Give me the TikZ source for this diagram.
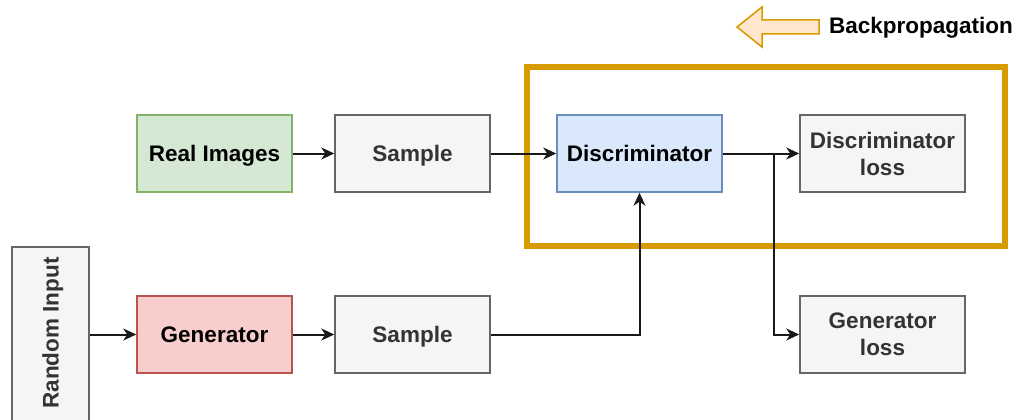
\documentclass[tikz,border=0pt]{standalone}
\usepackage{fontspec}
\setmainfont{Liberation Sans}
\usetikzlibrary{arrows.meta,calc}
\definecolor{grayfill}{HTML}{F5F5F5}
\definecolor{graystroke}{HTML}{666666}
\definecolor{graytext}{HTML}{333333}
\definecolor{greenfill}{HTML}{D5E8D4}
\definecolor{greenstroke}{HTML}{82B366}
\definecolor{redfill}{HTML}{F8CECC}
\definecolor{redstroke}{HTML}{B85450}
\definecolor{bluefill}{HTML}{DAE8FC}
\definecolor{bluestroke}{HTML}{6C8EBF}
\definecolor{orangefill}{HTML}{FFE6CC}
\definecolor{orangestroke}{HTML}{D79B00}
\newcommand{\bigfont}{\fontsize{22.5}{27}\selectfont\bfseries}
\tikzset{
  box/.style={draw, line width=1.5pt, minimum width=155pt, minimum height=77pt, inner sep=0pt, align=center, font=\bigfont},
  graybox/.style={box, fill=grayfill, draw=graystroke, text=graytext},
  wbox/.style={graybox, minimum width=165pt},
  conn/.style={line width=2pt, draw=black!90, -{Stealth[length=13pt,width=12pt,inset=4pt]}},
}
\begin{document}
\begin{tikzpicture}[x=1pt,y=-1pt]
\useasboundingbox (0,0) rectangle (1021,420);
\clip (0,0) rectangle (1021,420);
% backpropagation legend arrow
\draw[draw=orangestroke, fill=orangefill, line width=1.5pt, line join=miter]
  (737,27) -- (762,7) -- (762,20) -- (819,20) -- (819,34) -- (762,34) -- (762,47) -- cycle;
\node[anchor=west, font=\bigfont, inner sep=0pt] (bp) at (829,28) {Backpropagation};
% orange frame
\node[draw=orangestroke, line width=6pt, minimum width=478pt, minimum height=179pt, inner sep=0pt] (frame) at (766,156.5) {};
% nodes
\node[box, fill=greenfill, draw=greenstroke, text height=16pt, text depth=0pt] (real) at (214.5,153.5) {Real Images};
\node[graybox, text height=16pt, text depth=0pt] (s1) at (412.5,153.5) {Sample};
\node[box, fill=bluefill, draw=bluestroke, minimum width=165pt, text height=16pt, text depth=0pt] (disc) at (639.5,153.5) {Discriminator};
\node[wbox] (dloss) at (882.5,153.5) {Discriminator\\loss};
\node[graybox, minimum width=77pt, minimum height=190pt] (rin) at (50.5,342) {};
\node[rotate=90, font=\bigfont, text=graytext, inner sep=0pt, text height=16pt, text depth=0pt] (rintext) at (50.5,333) {Random Input};
\node[box, fill=redfill, draw=redstroke, text height=16pt, text depth=0pt] (gen) at (214.5,334.5) {Generator};
\node[graybox, text height=16pt, text depth=0pt] (s2) at (412.5,334.5) {Sample};
\node[wbox] (gloss) at (882.5,334.5) {Generator\\loss};
% connectors
\coordinate (branch) at (774,153.5);
\draw[conn] (real) -- (s1);
\draw[conn] (s1) -- (disc);
\draw[conn] (disc) -- (dloss);
\draw[conn] (branch) |- (gloss);
\draw[conn] (rin.east |- gen) -- (gen);
\draw[conn] (gen) -- (s2);
\draw[conn] (s2.east) -| (disc.south);
\end{tikzpicture}
\end{document}
